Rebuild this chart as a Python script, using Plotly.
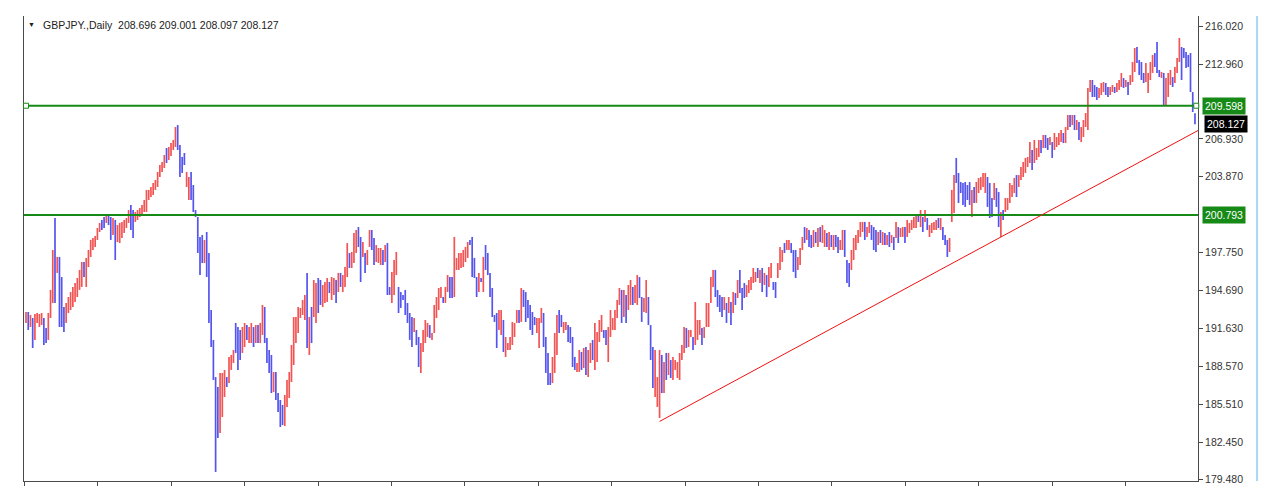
import plotly.graph_objects as go

# ---------------- data ----------------
symbol_label = "GBPJPY.,Daily"
last_ohlc = [208.696, 209.001, 208.097, 208.127]   # O H L C of the last bar (header)
levels = [209.598, 200.793]                         # horizontal support / resistance lines
trend_x = [284, 525.36]                             # trend line (bar index)
trend_y = [184.15, 207.60]                          # trend line (price)
ytick_vals = [216.020, 212.960, 206.930, 203.870, 197.750,
              194.690, 191.630, 188.570, 185.510, 182.450, 179.480]

high = [
    192.97,192.97,192.73,192.49,192.81,192.89,192.81,192.89,192.49,191.68,192.89,194.75,197.97,200.55,
    197.41,197.41,195.79,193.38,193.70,194.18,194.58,194.99,195.31,195.71,196.36,
    197.00,197.00,197.33,197.97,198.78,198.94,
    199.10,199.74,200.15,200.39,
    200.63,200.71,200.79,200.63,200.55,200.39,199.98,200.15,200.23,
    200.39,200.55,201.19,201.60,201.19,201.03,201.19,201.36,201.60,202.00,
    202.81,202.81,203.05,203.37,203.61,204.26,204.82,205.06,205.63,
    206.19,206.27,206.59,206.84,207.88,208.04,
    206.43,205.47,205.79,204.26,203.85,204.26,203.21,201.19,200.63,199.02,199.18,198.78,199.42,197.73,193.13,190.72,187.73,
    186.93,188.06,188.06,188.30,187.73,189.35,189.51,189.91,192.09,191.76,191.52,191.76,192.09,191.92,191.76,192.09,191.76,191.92,191.92,
    192.09,193.54,193.38,190.88,189.91,189.51,188.14,188.14,186.44,185.88,185.48,186.28,187.49,188.14,190.31,192.57,192.57,193.38,193.30,193.94,
    194.34,196.12,192.57,193.38,195.55,195.31,195.71,195.55,195.15,195.39,195.71,195.39,195.79,195.71,
    195.55,196.12,196.12,195.95,196.60,198.53,197.73,197.81,199.34,199.58,199.82,
    199.02,198.61,197.73,197.97,199.58,199.58,198.94,198.37,198.13,198.13,197.97,198.37,198.53,194.99,196.20,197.16,
    197.81,194.99,194.58,194.34,194.75,193.70,192.89,192.57,192.49,191.52,190.96,190.47,191.52,192.33,192.09,191.92,
    191.28,193.54,194.18,194.91,194.99,194.18,194.99,195.95,195.79,195.79,199.02,197.33,197.73,197.73,197.97,198.21,198.61,
    198.78,199.02,197.33,195.79,196.12,195.71,197.41,198.37,197.73,196.12,194.91,192.73,192.89,193.13,193.13,192.33,
    190.96,190.47,190.96,192.17,192.09,193.13,193.13,194.91,194.75,194.58,
    193.94,193.54,192.97,192.57,192.49,192.49,193.30,192.89,190.96,189.67,
    188.06,189.35,191.28,192.73,193.13,192.73,192.17,192.17,191.92,191.76,
    190.96,189.35,188.86,189.91,189.75,190.07,190.15,189.91,190.47,190.72,
    192.09,191.36,192.33,192.73,191.52,191.52,191.76,193.13,192.49,193.13,
    193.94,194.91,194.75,194.75,194.34,195.15,195.55,194.99,195.15,195.95,
    195.79,194.18,194.10,195.55,194.18,191.92,190.15,189.91,187.73,189.91,
    189.51,188.94,189.67,189.67,189.10,189.35,189.10,188.94,189.67,190.31,
    191.76,191.68,191.52,191.52,190.96,193.78,192.33,192.33,191.68,191.76,
    193.70,193.70,195.79,196.36,196.36,194.75,194.34,194.18,194.18,193.70,
    194.18,193.78,194.58,194.50,195.55,196.36,194.91,
    195.31,195.15,195.55,195.79,196.52,196.20,196.52,196.36,196.52,196.12,
    195.95,196.60,196.92,195.39,195.39,196.92,198.21,197.97,198.53,198.78,
    198.78,198.53,197.97,197.97,197.41,198.13,199.02,199.82,199.74,199.58,
    199.18,199.58,199.42,199.74,199.82,199.98,199.58,199.34,199.42,199.18,
    199.18,199.18,199.02,198.78,199.58,199.58,197.16,196.92,197.97,198.94,
    199.18,199.58,200.23,200.23,200.23,199.82,200.23,199.98,199.82,199.58,
    199.42,199.58,199.42,199.34,199.18,199.42,199.18,199.02,200.23,199.82,
    199.74,199.82,199.82,200.39,200.15,200.39,200.63,200.79,200.79,201.19,
    200.63,201.19,200.55,199.98,200.15,200.23,200.39,200.55,200.55,199.82,
    199.18,198.78,198.94,
    202.81,204.01,205.39,204.18,203.45,203.37,203.45,203.21,203.45,202.81,
    203.05,203.45,203.77,203.85,204.18,204.18,203.85,203.37,202.16,203.37,
    202.97,202.64,201.03,201.19,202.16,202.16,203.37,203.21,203.77,204.01,
    204.01,204.66,205.06,205.39,205.47,206.67,206.03,206.84,206.19,206.84,
    206.84,207.24,207.24,207.00,207.08,206.67,207.40,207.08,207.40,207.64,
    207.40,207.88,208.85,208.85,208.85,208.85,208.45,208.29,207.88,208.45,
    209.01,211.03,
    211.67,211.67,211.27,211.11,211.03,211.43,211.51,211.43,211.11,211.11,
    211.27,211.11,211.43,211.67,212.24,211.83,211.67,211.51,212.07,213.12,
    214.25,214.33,213.28,213.12,212.24,213.04,212.24,213.12,213.69,213.85,
    214.73,212.48,212.32,212.24,211.83,212.24,212.48,211.91,212.72,213.45,
    215.06,214.33,214.25,213.93,213.69,213.85,210.70,209.001,
]

low = [
    192.09,191.52,191.76,190.07,190.72,192.09,191.76,191.92,190.31,190.47,190.72,192.49,193.70,193.70,
    196.12,191.76,191.76,191.36,192.09,192.89,193.13,193.38,193.78,194.18,194.75,
    194.99,195.79,194.99,196.60,197.41,197.97,
    198.21,198.78,199.42,199.58,
    199.74,200.15,199.98,198.78,199.18,197.16,198.61,198.53,198.94,
    199.34,199.74,200.15,199.58,198.94,200.23,200.39,200.63,200.79,201.03,
    201.03,202.00,202.24,202.40,202.81,203.05,203.85,204.26,204.58,
    204.98,205.22,205.55,206.03,206.27,206.03,
    203.85,204.18,204.82,203.05,202.00,202.00,201.03,200.63,197.73,195.95,196.92,196.92,195.79,192.09,190.15,187.49,180.08,
    182.82,183.22,184.51,186.12,186.93,187.25,188.30,188.86,189.67,188.30,189.10,189.67,190.15,190.72,190.47,190.47,190.15,190.47,190.47,
    190.47,191.12,190.47,188.86,188.06,186.44,186.52,185.88,184.91,183.70,183.86,183.78,185.32,186.04,187.33,188.70,190.47,191.28,192.49,192.73,
    192.33,190.07,189.51,190.47,192.57,192.09,192.89,193.54,193.38,193.70,193.78,194.50,193.94,194.34,
    193.70,194.58,194.99,194.58,194.99,195.79,196.52,196.52,196.92,197.73,198.21,
    195.39,197.41,196.12,196.76,198.21,197.97,196.76,197.00,196.92,196.76,196.76,197.00,194.34,194.34,193.70,194.34,
    195.95,192.89,193.30,193.94,192.73,192.09,190.72,190.15,191.36,190.31,188.54,188.06,189.75,190.47,190.96,190.88,
    190.72,191.28,192.49,193.13,194.10,193.70,193.70,194.58,194.10,194.10,194.18,196.36,196.36,196.52,196.60,197.00,197.33,
    198.37,195.79,195.71,194.18,194.58,195.39,194.58,196.36,195.95,194.18,192.57,192.17,190.07,191.52,191.12,189.75,
    189.35,189.91,189.91,190.31,190.96,192.09,192.09,192.17,193.38,192.17,
    192.49,191.52,191.12,191.92,191.28,190.07,192.09,190.15,188.06,187.09,
    187.09,187.25,188.06,189.51,191.28,191.76,191.28,191.52,190.55,190.47,
    188.54,188.30,188.14,188.14,188.30,188.46,187.89,187.73,188.86,189.10,
    188.30,188.94,190.55,191.36,190.88,190.31,188.94,190.96,191.52,191.52,
    192.49,193.54,192.09,192.57,192.09,193.13,193.54,193.54,193.70,193.54,
    194.10,192.17,192.97,192.89,191.92,189.10,186.85,186.12,185.32,184.43,
    186.44,186.44,187.49,187.89,187.65,187.49,188.30,187.65,187.49,189.10,
    189.67,190.07,190.15,190.96,189.91,190.31,190.72,191.12,190.31,190.88,
    191.76,191.76,193.70,194.99,194.18,193.38,192.97,192.57,193.13,192.09,
    192.89,191.92,192.89,193.54,194.10,194.50,193.13,
    194.10,194.18,194.50,194.75,195.31,195.39,195.71,195.31,194.58,195.15,
    194.18,194.99,195.71,194.75,194.10,195.71,196.36,197.00,197.73,197.97,
    197.97,197.73,196.20,195.71,196.36,196.76,197.97,198.53,198.78,198.21,
    198.13,198.21,198.53,198.21,198.61,198.53,198.21,198.21,197.97,198.21,
    197.97,198.21,197.73,197.97,197.97,197.41,195.31,194.99,196.36,197.16,
    197.97,198.53,199.02,199.42,198.78,199.02,199.34,198.78,197.97,197.81,
    198.37,198.53,198.37,198.37,198.37,198.21,198.53,197.97,198.94,198.53,
    199.02,199.02,198.53,199.02,199.34,199.58,199.74,199.74,200.23,199.82,
    199.42,200.23,199.58,199.02,199.34,199.58,199.58,199.74,199.58,198.78,
    198.37,197.41,197.81,
    200.23,200.95,203.37,201.76,202.56,201.60,201.44,202.00,201.60,200.63,
    201.76,201.76,202.56,202.81,203.05,202.56,201.44,200.55,200.63,202.00,
    201.44,199.82,199.02,200.39,201.03,201.19,201.76,202.24,202.56,202.24,
    203.05,203.61,203.85,204.18,204.66,204.98,204.42,204.98,205.22,205.47,
    205.79,206.19,206.19,206.03,206.43,205.39,206.03,206.27,206.43,206.67,
    206.59,206.59,207.64,207.88,208.04,207.64,207.64,206.84,206.67,207.08,
    207.88,207.64,
    210.70,210.30,210.30,210.06,210.22,210.46,210.70,210.46,210.30,210.46,
    210.70,210.62,210.70,210.87,211.11,211.03,211.11,210.46,211.27,211.51,
    212.32,213.04,212.07,211.67,211.43,211.51,210.62,211.67,212.24,212.72,
    212.24,211.91,211.83,209.66,209.66,210.30,211.27,211.11,211.43,212.24,
    213.12,211.67,213.45,212.64,212.72,210.70,209.09,208.097,
]

# 'u' = bar closed up (red), 'd' = bar closed down (blue)
direction = (
    "ududuuuudduuud"
    "uddduuuuuuu"
    "uduuuu"
    "uuud"
    "dudduduuu"
    "uuudduuuuu"
    "uuuuuuuuu"
    "duuuud"
    "ddduudddddduddddd"
    "duuuduuuddduuduudud"
    "uuddddudddduuuuuuuuu"
    "ududuudduuuduu"
    "duduuuduuud"
    "dud" "uu" "dd" "uuu" "d" "u" "dd" "uuu" "ddddddd" "u" "dd" "uuuu" "d"
    "uuuuud" "uu" "dd" "uuuuuuu" "dddd" "udu" "dddddd" "uu" "d"
    "uuuuuu" "d" "u" "dddddd" "uuu" "dddd" "uuu" "dd" "uu" "dddd" "uu" "d" "u" "d" "uu" "d"
    "uuuu" "dd" "uuuuuu" "d" "u" "d" "uu" "d" "uu" "dd" "uu" "ddd" "uuu" "d" "u" "d" "u" "d"
    "uuuuuu" "d" "uu" "d" "uuu" "d" "uuuuu" "dddd" "u" "d" "u" "d" "u" "d" "u" "dd"
    "duuuuududu" "duudduuudu" "uddduuudud" "dududuudud" "udduuddduu"
    "uuuuduuddd" "ududududud" "uuduuuuudu" "duduuuudud" "ddu"
    "uudddddddu" "duuuuudddu" "dduduuuuud" "uuuuuuduuu" "dudduduuuu" "duudududuu" "uu"
    "uddduuuddu" "uduuududuu" "udddduuuud" "dduduuuduu" "uddddddd"
)

# ---------------- build OHLC table ----------------
n = min(len(high), len(low), len(direction))
high, low, direction = high[:n], low[:n], direction[:n]
opens = [lo if d == "u" else hi for hi, lo, d in zip(high, low, direction)]
closes = [hi if d == "u" else lo for hi, lo, d in zip(high, low, direction)]
opens[-1], closes[-1] = last_ohlc[0], last_ohlc[3]
xs = list(range(n))

RED = "#f25454"
BLUE = "#5454ee"
GREEN = "#168a16"
AXIS = "#4a4a4a"
FONT = "Liberation Sans"

fig = go.Figure()
fig.add_trace(go.Ohlc(
    x=xs, open=opens, high=high, low=low, close=closes,
    increasing=dict(line=dict(color=RED, width=1.7)),
    decreasing=dict(line=dict(color=BLUE, width=1.7)),
    tickwidth=0, hoverinfo="skip", showlegend=False,
))

shapes = []
# horizontal level lines
for lv in levels:
    shapes.append(dict(type="line", xref="paper", yref="y", x0=0, x1=1, y0=lv, y1=lv,
                       line=dict(color=GREEN, width=2), layer="above"))
# selection squares on the first level line
for px in (0.0017, 0.9985):
    shapes.append(dict(type="rect", xref="paper", yref="y",
                       xsizemode="pixel", ysizemode="pixel",
                       xanchor=px, yanchor=levels[0], x0=-2.5, x1=2.5, y0=-2.5, y1=2.5,
                       line=dict(color=GREEN, width=1), fillcolor="white", layer="above"))
# trend line
shapes.append(dict(type="line", xref="x", yref="y", x0=trend_x[0], x1=trend_x[1],
                   y0=trend_y[0], y1=trend_y[1], line=dict(color="#f01010", width=1),
                   layer="above"))
# window edge (light blue)
shapes.append(dict(type="line", xref="paper", yref="paper", x0=1.0503, x1=1.0503, y0=0, y1=1,
                   line=dict(color="#a9d9f1", width=2)))

annotations = []
annotations.append(dict(xref="paper", yref="paper", x=0.0068, y=0.981, text="▼",
                        showarrow=False, xanchor="center", yanchor="middle",
                        font=dict(family=FONT, size=7, color="#222")))
annotations.append(dict(xref="paper", yref="paper", x=0.0142, y=0.981,
                        text=symbol_label + "\u00a0\u00a0" + " ".join(f"{v:.3f}" for v in last_ohlc),
                        showarrow=False, xanchor="left", yanchor="middle",
                        font=dict(family=FONT, size=10.5, color="#222")))
for lv in levels:
    annotations.append(dict(xref="paper", yref="y", x=1, y=lv, xanchor="left", yanchor="middle",
                            xshift=4, text=f"{lv:.3f}", showarrow=False, bgcolor=GREEN,
                            borderpad=2, font=dict(family=FONT, size=10.5, color="white")))
annotations.append(dict(xref="paper", yref="y", x=1, y=last_ohlc[3], xanchor="left",
                        yanchor="middle", xshift=6, text=f"{last_ohlc[3]:.3f}", showarrow=False,
                        bgcolor="black", borderpad=2,
                        font=dict(family=FONT, size=10.5, color="white")))

fig.update_layout(
    width=1274, height=500,
    margin=dict(l=24, r=76, t=16, b=19),
    paper_bgcolor="white", plot_bgcolor="white",
    showlegend=False, shapes=shapes, annotations=annotations,
    xaxis=dict(range=[-0.8965, 525.36], showgrid=False, zeroline=False,
               showline=True, linecolor=AXIS, linewidth=1,
               ticks="outside", ticklen=4, tickcolor=AXIS, tickwidth=1,
               tick0=-0.67, dtick=32.9, showticklabels=False,
               rangeslider=dict(visible=False), fixedrange=True),
    yaxis=dict(side="right", range=[179.35, 216.83], showgrid=False, zeroline=False,
               showline=True, mirror=True, linecolor=AXIS, linewidth=1,
               ticks="outside", ticklen=4, tickcolor=AXIS, tickwidth=1,
               tickmode="array", tickvals=ytick_vals,
               ticktext=[f"{v:.3f}" for v in ytick_vals],
               tickfont=dict(family=FONT, size=10.5, color="#333"), fixedrange=True),
)

fig.write_html("out.html", config={"displayModeBar": False})
